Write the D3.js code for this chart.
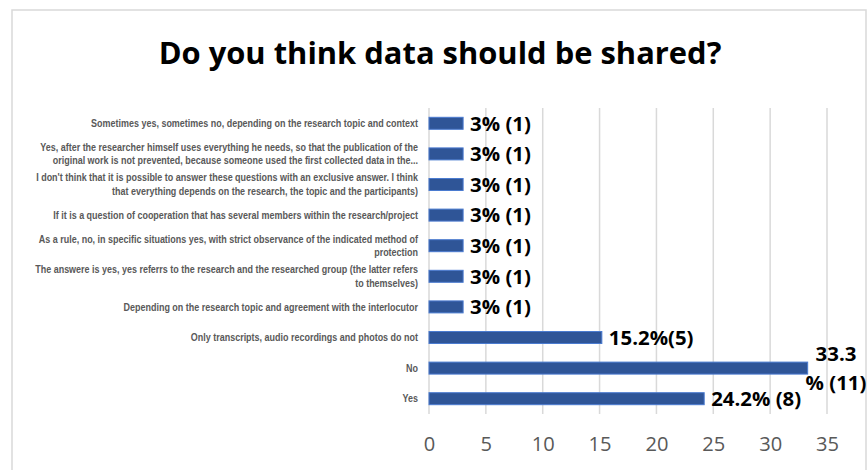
<!DOCTYPE html>
<html>
<head>
<meta charset="utf-8">
<script src="https://cdn.jsdelivr.net/npm/d3@7/dist/d3.min.js"></script>
<style>
  html, body { margin: 0; padding: 0; background: #fff; }
  svg { display: block; }
</style>
</head>
<body>
<svg id="chart" width="868" height="470"></svg>
<script>
// Answers, top to bottom as shown; "\n" marks a line break in the label
const categories = [
  "Sometimes yes, sometimes no, depending on the research topic and context",
  "Yes, after the researcher himself uses everything he needs, so that the publication of the\noriginal work is not prevented, because someone used the first collected data in the...",
  "I don't think that it is possible to answer these questions with an exclusive answer. I think\nthat everything depends on the research, the topic and the participants)",
  "If it is a question of cooperation that has several members within the research/project",
  "As a rule, no, in specific situations yes, with strict observance of the indicated method of\nprotection",
  "The answere is yes, yes referrs to the research and the researched group (the latter refers\nto themselves)",
  "Depending on the research topic and agreement with the interlocutor",
  "Only transcripts, audio recordings and photos do not",
  "No",
  "Yes"
];
const percentages = [3, 3, 3, 3, 3, 3, 3, 15.2, 33.3, 24.2];
const valueLabels = [
  "3% (1)", "3% (1)", "3% (1)", "3% (1)", "3% (1)", "3% (1)", "3% (1)",
  "15.2%(5)", "33.3\n% (11)", "24.2% (8)"
];
const tickValues = [0, 5, 10, 15, 20, 25, 30, 35];
const title = "Do you think data should be shared?";

const svg = d3.select("#chart");

// chart frame
svg.append("rect")
  .attr("x", 12).attr("y", 10)
  .attr("width", 854).attr("height", 480)
  .attr("fill", "#fff")
  .attr("stroke", "#d9d9d9").attr("stroke-width", 1.5);

const x = d3.scaleLinear().domain([0, 35]).range([429, 827]);
const y = d3.scaleBand().domain(categories).range([108, 414])
  .paddingInner(0.608).paddingOuter(0.304);

// horizontal squeeze factor so a sample string spans the wanted width
function squeeze(family, weight, size, sampleText, targetWidth) {
  const probe = svg.append("text")
    .attr("font-family", family).attr("font-weight", weight)
    .attr("font-size", size).text(sampleText);
  const w = probe.node().getComputedTextLength();
  probe.remove();
  return targetWidth / w;
}

const sans = "'Open Sans', 'Noto Sans', sans-serif";

// title
const titleSize = 31;
const titleSx = squeeze(sans, "bold", titleSize, title, 563);
svg.append("text")
  .attr("transform", `translate(440,64) scale(${titleSx},1)`)
  .attr("text-anchor", "middle")
  .attr("font-family", sans)
  .attr("font-weight", "bold")
  .attr("font-size", titleSize)
  .attr("fill", "#000")
  .text(title);

// vertical gridlines
svg.append("g").selectAll("line").data(tickValues).join("line")
  .attr("x1", d => x(d)).attr("x2", d => x(d))
  .attr("y1", 108).attr("y2", 414)
  .attr("stroke", "#d9d9d9").attr("stroke-width", 1.5);

// x axis tick labels
const tickSize = 20;
const tickSx = squeeze(sans, "normal", tickSize, "35", 23);
const axis = d3.axisBottom(x).tickValues(tickValues).tickSize(0).tickPadding(0);
const axisG = svg.append("g").attr("transform", "translate(0,444)").call(axis);
axisG.select(".domain").remove();
axisG.selectAll("text")
  .attr("font-family", sans)
  .attr("font-size", tickSize)
  .attr("fill", "#595959")
  .attr("y", 0)
  .attr("dy", "0.35em")
  .attr("transform", `scale(${tickSx},1)`);
axisG.attr("font-size", null).attr("font-family", null);

// category labels (right aligned, multi-line, condensed)
const catFont = "'Liberation Sans', 'DejaVu Sans', sans-serif";
const catSize = 10.4;
const catSx = squeeze(catFont, "bold", catSize, categories[0], 327);
const lineGap = 13.5;
const catG = svg.append("g")
  .attr("font-family", catFont)
  .attr("font-weight", "bold")
  .attr("font-size", catSize)
  .attr("fill", "#595959")
  .attr("text-anchor", "end");
catG.selectAll("text").data(categories).join("text")
  .attr("transform", d => `translate(418,${y(d) + y.bandwidth() / 2}) scale(${catSx},1)`)
  .each(function (d) {
    const lines = d.split("\n");
    const t = d3.select(this);
    lines.forEach((ln, i) => {
      t.append("tspan")
        .attr("x", 0)
        .attr("y", (i - (lines.length - 1) / 2) * lineGap)
        .attr("dy", "0.35em")
        .text(ln);
    });
  });

// bars
svg.append("g").selectAll("rect").data(categories).join("rect")
  .attr("x", x(0))
  .attr("y", d => y(d))
  .attr("width", (d, i) => x(percentages[i]) - x(0))
  .attr("height", y.bandwidth())
  .attr("fill", "#2f5597")
  .attr("stroke", "#4a7bd0")
  .attr("stroke-width", 1);

// value labels
const valSize = 19;
const valSx = squeeze(sans, "bold", valSize, "24.2% (8)", 90);
const valG = svg.append("g")
  .attr("font-family", sans)
  .attr("font-weight", "bold")
  .attr("font-size", valSize)
  .attr("fill", "#000");
valG.selectAll("text").data(categories).join("text")
  .each(function (d, i) {
    const t = d3.select(this);
    const cy = y(d) + y.bandwidth() / 2;
    const lines = valueLabels[i].split("\n");
    if (lines.length === 1) {
      t.attr("transform", `translate(${x(percentages[i]) + 7},${cy}) scale(${valSx},1)`)
        .attr("dy", "0.38em")
        .text(lines[0]);
    } else {
      // label too wide for the space right of the bar: stacked around the bar end
      t.attr("transform", `translate(836,${cy}) scale(${valSx},1)`)
        .attr("text-anchor", "middle");
      lines.forEach((ln, k) => {
        t.append("tspan")
          .attr("x", 0)
          .attr("y", (k - 0.5) * 29)
          .attr("dy", "0.38em")
          .text(ln);
      });
    }
  });
</script>
</body>
</html>
